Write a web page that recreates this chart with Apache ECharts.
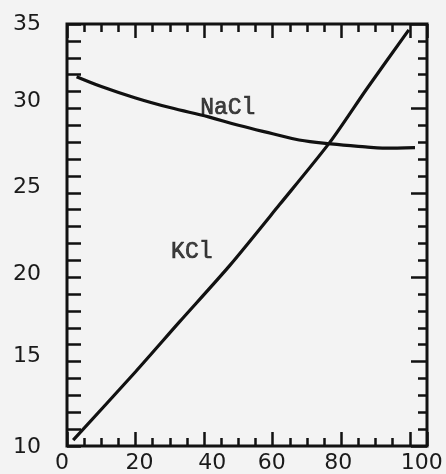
<!DOCTYPE html>
<html>
<head>
<meta charset="utf-8">
<script src="https://cdn.jsdelivr.net/npm/echarts@6/dist/echarts.min.js"></script>
<style>
html,body{margin:0;padding:0;background:#f3f3f3;}
#chart{width:446px;height:474px;}
</style>
</head>
<body>
<div id="chart"></div>
<script>
// Data
var naclTemps = [2.8, 10, 20, 30, 41.3, 50, 60, 67.7, 77, 87, 92, 101.5];
var naclValues = [31.88, 31.3, 30.62, 30.05, 29.5, 29.0, 28.5, 28.13, 27.9, 27.72, 27.65, 27.68];
var kclTemps = [1.8, 20, 32.8, 47.5, 62, 76.7, 87.4, 99.7];
var kclValues = [10.35, 14.4, 17.35, 20.7, 24.3, 28.0, 31.15, 34.65];
var xTickLabels = [0, 20, 40, 60, 80, 100];
var yTickLabels = [10, 15, 20, 25, 30, 35];
var curveNames = ['NaCl', 'KCl'];
var curveLabelX = [46.9, 36.4];
var curveLabelY = [30.0, 21.5];

// hand-lettered label shifts (px) seen in the original
var xLabelShift = [-5, 4, 8, -1, -3, 12];
var yLabelShift = [1, -5, -3, -6, -7, 0];

var XMIN = 0, XMAX = 105, YMIN = 10, YMAX = 35;
var ink = '#111';

function pairs(xs, ys){ return xs.map(function(x,i){ return [x, ys[i]]; }); }

var xRich = {}, yRich = {};
xTickLabels.forEach(function(v,i){
  var d = xLabelShift[i];
  xRich['x'+i] = {fontSize:22, color:'#1a1a1a', fontFamily:'DejaVu Sans',
    padding: d >= 0 ? [0,0,0,2*d] : [0,-2*d,0,0]};
});
yTickLabels.forEach(function(v,i){
  var d = yLabelShift[i];
  yRich['y'+i] = {fontSize:22, color:'#1a1a1a', fontFamily:'DejaVu Sans',
    padding: d >= 0 ? [2*d,0,0,0] : [0,0,-2*d,0]};
});

function xAx(pos, interval, len, labels){
  return {
    type:'value', position:pos, min:XMIN, max:XMAX, interval:interval,
    axisLine:{show:false, onZero:false}, splitLine:{show:false},
    axisTick:{show:true, inside:true, length:len, lineStyle:{color:ink, width:2.5}},
    axisLabel: labels ? {
      show:true, margin:6, fontSize:22, color:'#1a1a1a', fontFamily:'DejaVu Sans', rich:xRich,
      formatter:function(v){ var i = xTickLabels.indexOf(v); return i >= 0 ? '{x'+i+'|'+v+'}' : ''; }
    } : {show:false}
  };
}
function yAx(pos, interval, len, labels){
  return {
    type:'value', position:pos, min:YMIN, max:YMAX, interval:interval,
    axisLine:{show:false, onZero:false}, splitLine:{show:false},
    axisTick:{show:true, inside:true, length:len, lineStyle:{color:ink, width:2.5}},
    axisLabel: labels ? {
      show:true, margin:26, fontSize:22, color:'#1a1a1a', fontFamily:'DejaVu Sans', rich:yRich,
      formatter:function(v){ var i = yTickLabels.indexOf(v); return i >= 0 ? '{y'+i+'|'+v+'}' : ''; }
    } : {show:false}
  };
}

var chart = echarts.init(document.getElementById('chart'), null, {renderer:'canvas'});
chart.setOption({
  backgroundColor:'#f3f3f3',
  animation:false,
  grid:{left:67, top:24, width:360, height:422, show:true, borderColor:ink, borderWidth:3, backgroundColor:'transparent'},
  xAxis:[
    xAx('bottom', 5, 8, true),
    xAx('bottom', 20, 14, false),
    xAx('top', 5, 8, false),
    xAx('top', 20, 14, false)
  ],
  yAxis:[
    yAx('left', 1, 14, true),
    yAx('right', 1, 9, false),
    yAx('right', 5, 16, false)
  ],
  series:[
    {type:'line', name:curveNames[0], data:pairs(naclTemps, naclValues), smooth:0.4, symbol:'none',
     lineStyle:{color:ink, width:3.2}},
    {type:'line', name:curveNames[1], data:pairs(kclTemps, kclValues), smooth:0.25, symbol:'none',
     lineStyle:{color:ink, width:3.2}},
    {type:'scatter', symbolSize:0, data:curveNames.map(function(n,i){ return {name:n, value:[curveLabelX[i], curveLabelY[i]]}; }),
     label:{show:true, position:'inside', formatter:'{b}', fontFamily:'Liberation Mono', fontSize:23, color:'#111',
            textBorderColor:'#111', textBorderWidth:0.7}}
  ]
});
</script>
</body>
</html>
